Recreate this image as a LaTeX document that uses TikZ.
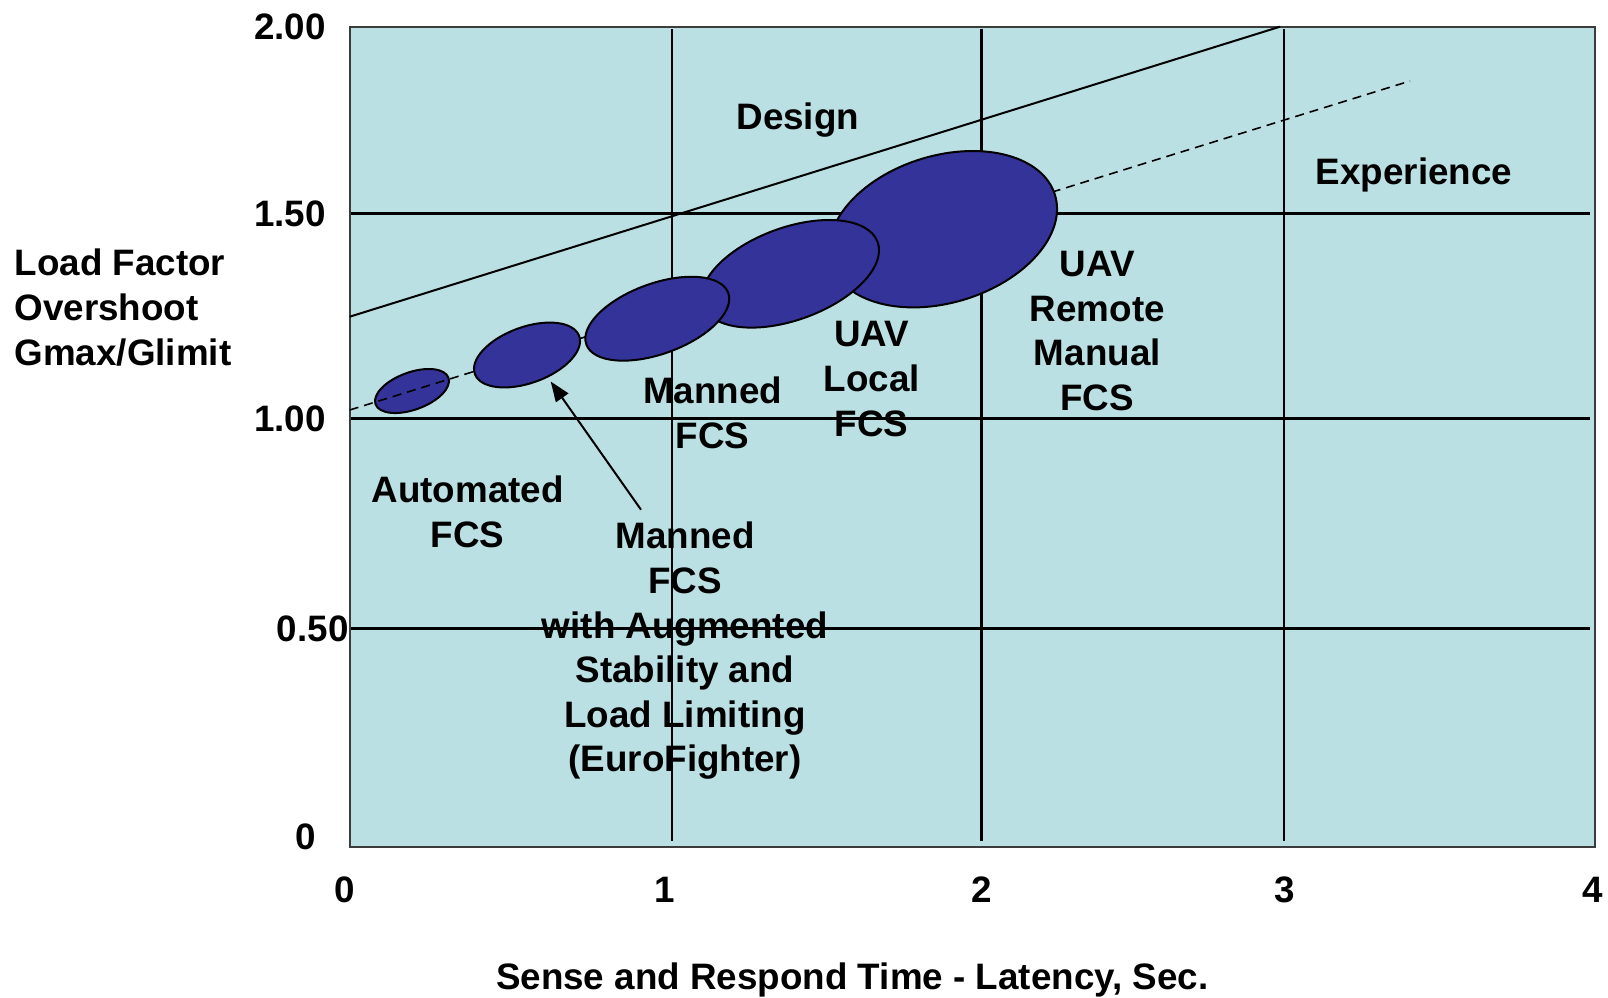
\documentclass[tikz,border=0pt]{standalone}
\usepackage{fontspec}
\setmainfont{Liberation Sans}
\usetikzlibrary{shapes.geometric,arrows.meta}
\definecolor{plotbg}{RGB}{187,224,227}
\definecolor{blobfill}{RGB}{51,51,153}
\definecolor{framegray}{RGB}{60,60,60}
\begin{document}
\begin{tikzpicture}[x=1pt,y=-1pt,
  lbl/.style={font=\fontsize{36.8}{44.6}\selectfont\bfseries, inner sep=0pt, align=center},
  hgrid/.style={line width=2.8pt, black},
  vgrid/.style={line width=2.4pt, black},
  blob/.style={ellipse, draw=black, line width=2pt, fill=blobfill, inner sep=0pt, rotate=20},
  trend/.style={line width=2pt, black},
]
\useasboundingbox (0,0) rectangle (1608,997);
% plot area
\fill[plotbg] (349.7,26.7) rectangle (1594.7,847);
% grid
\draw[hgrid] (349,213.3) -- (1590,213.3);
\draw[hgrid] (349,418.4) -- (1590,418.4);
\draw[hgrid] (349,628.8) -- (1590,628.8);
\draw[vgrid] (671.7,29) -- (671.7,841);
\draw[vgrid] (981.4,29) -- (981.4,841);
\draw[vgrid] (1283.9,29) -- (1283.9,841);
\draw[line width=2pt, framegray] (349.7,26.7) rectangle (1594.7,847);
% smallest ellipse, then dashed trend
\node[blob, minimum width=77.6pt, minimum height=37.4pt] (e1) at (412,391) {};
\coordinate (dL) at (349.7,410);
\coordinate (dR) at (1410,81);
\draw[line width=1.6pt, dash pattern=on 9pt off 6pt] (dL) -- (dR);
\node[blob, rotate=-3, minimum width=234.2pt, minimum height=147pt] (e5) at (943,229.2) {};
\node[blob, minimum width=185.8pt, minimum height=92.4pt] (e4) at (790.3,273.8) {};
\node[blob, minimum width=151pt, minimum height=70.4pt] (e3) at (657.3,318.7) {};
\node[blob, minimum width=111pt, minimum height=56pt] (e2) at (527,355) {};
% design line
\coordinate (sL) at (349.7,316.7);
\coordinate (sR) at (1280,26.7);
\draw[trend] (sL) -- (sR);
% arrow
\coordinate (aS) at (641,509.7);
\coordinate (aE) at (550.7,381.5);
\draw[line width=2pt, -{Triangle[length=20pt,width=15pt]}] (aS) -- (aE);
% y labels
\node[lbl, anchor=base east] (y200) at (326,39.7) {2.00};
\node[lbl, anchor=base east] (y150) at (326,226.3) {1.50};
\node[lbl, anchor=base east] (y100) at (326,431.4) {1.00};
\node[lbl, anchor=base east] (y050) at (348.7,641.6) {0.50};
\node[lbl, anchor=base] (y000) at (305.6,849) {0};
% x labels
\node[lbl, anchor=base] (x0) at (344.6,902) {0};
\node[lbl, anchor=base] (x1) at (665,902) {1};
\node[lbl, anchor=base] (x2) at (981.4,902) {2};
\node[lbl, anchor=base] (x3) at (1285,902) {3};
\node[lbl, anchor=base] (x4) at (1592.6,902) {4};
% axis titles
\node[lbl, anchor=base] (xt) at (852.2,989) {Sense and Respond Time - Latency, Sec.};
\node[lbl, align=left, anchor=west] (yt) at (14.4,307.6) {Load Factor\\Overshoot\\Gmax/Glimit};
% region labels
\node[lbl, anchor=base] (design) at (797.8,129) {Design};
\node[lbl, anchor=base] (exper) at (1414,184.3) {Experience};
% category labels
\node[lbl] (remote) at (1097.3,331.2) {UAV\\Remote\\Manual\\FCS};
\node[lbl] (local) at (871.7,379) {UAV\\Local\\FCS};
\node[lbl] (manned) at (712.7,412.8) {Manned\\FCS};
\node[lbl] (auto) at (467.6,511.7) {Automated\\FCS};
\node[lbl] (euro) at (685,651) {Manned\\FCS\\with Augmented\\Stability and\\Load Limiting\\(EuroFighter)};
\end{tikzpicture}
\end{document}
